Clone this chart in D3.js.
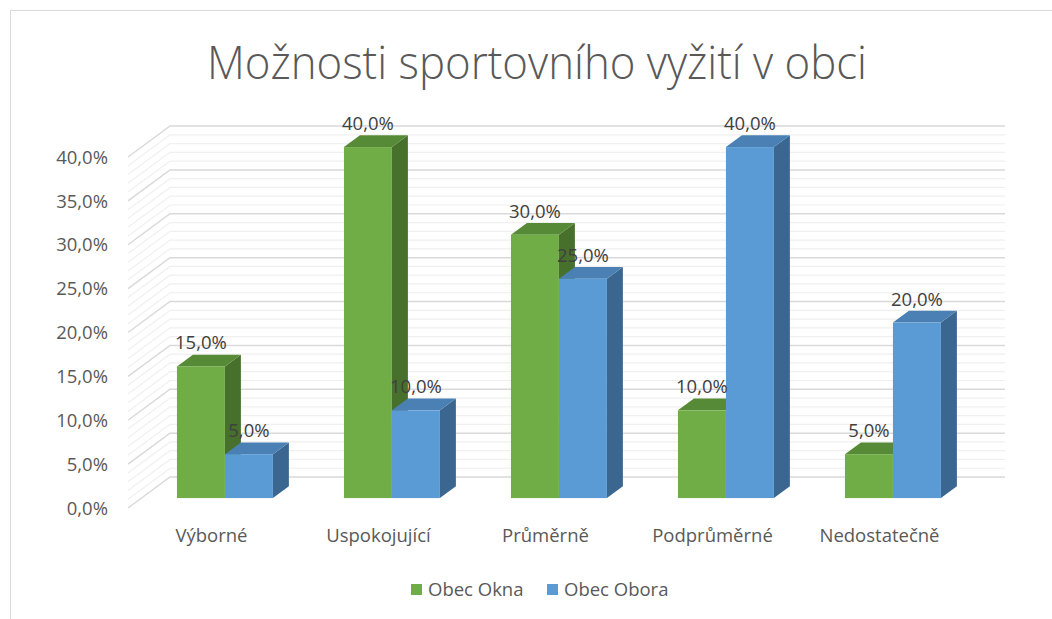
<!DOCTYPE html>
<html>
<head>
<meta charset="utf-8">
<script src="https://cdn.jsdelivr.net/npm/d3@7"></script>
<style>
  body { margin: 0; background: #fff; }
  text { font-family: "Open Sans", sans-serif; fill: #595959; }
</style>
</head>
<body>
<svg id="chart" width="1052" height="619"></svg>
<script>
// data
const categories = ["Výborné", "Uspokojující", "Průměrně", "Podprůměrné", "Nedostatečně"];
const series = ["Obec Okna", "Obec Obora"];
const okna = [0.15, 0.40, 0.30, 0.10, 0.05];
const obora = [0.05, 0.10, 0.25, 0.40, 0.20];
const yTicks = [0, 0.05, 0.10, 0.15, 0.20, 0.25, 0.30, 0.35, 0.40];

const values = [okna, obora];
const colors = {
  front: ["#70ad47", "#5b9bd5"],
  top: ["#578a37", "#4a80b3"],
  side: ["#47702c", "#3a668f"]
};

const svg = d3.select("#chart");
const fontSize = 18.5;

// chart border (cropped on the right and bottom like the original)
svg.append("rect")
  .attr("x", 10.5).attr("y", 10.5)
  .attr("width", 1100).attr("height", 700)
  .attr("fill", "none").attr("stroke", "#d9d9d9");

// title
svg.append("text")
  .attr("x", 537).attr("y", 79)
  .attr("text-anchor", "middle")
  .attr("font-size", 46)
  .attr("font-weight", 300)
  .attr("textLength", 660)
  .attr("lengthAdjust", "spacingAndGlyphs")
  .text("Možnosti sportovního vyžití v obci");

// 3d geometry: front plane + depth vector
const depth = { dx: 42, dy: -31 };
const x = d3.scaleBand().domain(categories).range([128, 963]);
const xs = d3.scaleBand().domain(series).range([0, x.bandwidth()])
  .paddingInner(0).paddingOuter(0.74);
const y = d3.scaleLinear().domain([0, 0.4]).range([508, 157]);
const barFront = 0.32, barBack = 0.70;

const locale = d3.formatLocale({ decimal: ",", thousands: " ", grouping: [3], currency: ["", ""] });
const fmt = locale.format(".1%");

// gridlines: minor every 1%, major every 5%
const grid = svg.append("g");
d3.range(0, 41).map(d => d / 100).forEach(v => {
  const major = Math.round(v * 100) % 5 === 0;
  const yy = y(v);
  grid.append("path")
    .attr("d", `M128,${yy}L${128 + depth.dx},${yy + depth.dy}L${963 + depth.dx},${yy + depth.dy}`)
    .attr("fill", "none")
    .attr("stroke", major ? "#d9d9d9" : "#f0f0f0")
    .attr("stroke-width", major ? 1.5 : 1.2);
});

// y axis labels
svg.append("g").selectAll("text")
  .data(yTicks)
  .join("text")
  .attr("x", 108)
  .attr("y", d => y(d))
  .attr("dy", "0.36em")
  .attr("text-anchor", "end")
  .attr("font-size", fontSize)
  .text(d => fmt(d));

// bars
const bars = svg.append("g");
const labels = [];
categories.forEach((cat, i) => {
  series.forEach((s, j) => {
    const v = values[j][i];
    const ox = barFront * depth.dx, oy = barFront * depth.dy;
    const bx = (barBack - barFront) * depth.dx, by = (barBack - barFront) * depth.dy;
    const x0 = x(cat) + xs(s) + ox;
    const x1 = x0 + xs.bandwidth();
    const yb = y(0) + oy;
    const yt = y(v) + oy;
    // side face
    bars.append("path")
      .attr("d", `M${x1},${yt}L${x1 + bx},${yt + by}L${x1 + bx},${yb + by}L${x1},${yb}Z`)
      .attr("fill", colors.side[j]);
    // top face
    bars.append("path")
      .attr("d", `M${x0},${yt}L${x0 + bx},${yt + by}L${x1 + bx},${yt + by}L${x1},${yt}Z`)
      .attr("fill", colors.top[j]);
    // front face
    bars.append("rect")
      .attr("x", x0).attr("y", yt)
      .attr("width", xs.bandwidth()).attr("height", yb - yt)
      .attr("fill", colors.front[j]);
    labels.push({ x: (x0 + x1) / 2, y: yt - 17, t: fmt(v) });
  });
});

// value labels
svg.append("g").selectAll("text")
  .data(labels)
  .join("text")
  .attr("x", d => d.x)
  .attr("y", d => d.y)
  .attr("text-anchor", "middle")
  .attr("font-size", fontSize)
  .style("fill", "#404040")
  .text(d => d.t);

// category labels
svg.append("g").selectAll("text")
  .data(categories)
  .join("text")
  .attr("x", d => x(d) + x.bandwidth() / 2)
  .attr("y", 542)
  .attr("text-anchor", "middle")
  .attr("font-size", fontSize)
  .text(d => d);

// legend
const legend = svg.append("g");
const legendX = [411, 547];
series.forEach((s, j) => {
  legend.append("rect")
    .attr("x", legendX[j]).attr("y", 584)
    .attr("width", 11).attr("height", 11)
    .attr("fill", colors.front[j]);
  legend.append("text")
    .attr("x", legendX[j] + 17).attr("y", 596)
    .attr("font-size", fontSize)
    .text(s);
});
</script>
</body>
</html>
